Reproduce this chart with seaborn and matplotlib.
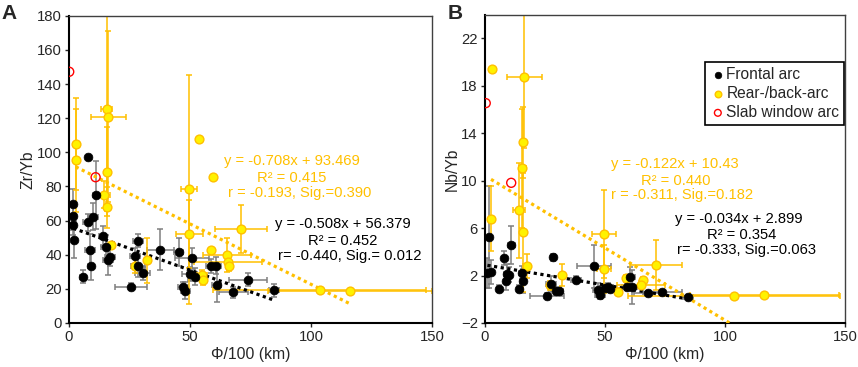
import numpy as np
import matplotlib
matplotlib.use('Agg')
import matplotlib.pyplot as plt
import seaborn as sns

# Panel A - Zr/Yb
frontal_x_a = [8.0, 1.8, 1.8, 1.8, 2.2, 7.7, 9.8, 11.0, 8.7, 9.0, 5.7, 14.0, 15.2, 16.0, 16.9, 28.4, 27.3,
               28.5, 30.4, 25.6, 37.7, 45.3, 50.9, 49.9, 52.1, 47.2, 48.1, 58.5, 60.7, 61.0, 67.9, 74.0, 84.8]
frontal_y_a = [97.0, 69.6, 62.4, 57.5, 48.8, 58.9, 62.2, 75.0, 43.0, 33.2, 27.2, 50.9, 44.3, 37.0, 38.6, 48.3,
               39.2, 33.2, 29.0, 21.3, 42.8, 41.6, 37.8, 28.7, 27.2, 20.9, 19.0, 33.2, 33.5, 22.4, 17.9, 25.4, 19.1]
frontal_yerr_a = [0, 9, 8, 6, 11, 5, 8, 20, 9, 8, 4, 6, 7, 9, 5, 4, 5, 6, 4, 2, 12, 8, 6, 4, 5, 3, 5, 4, 5,
                  10, 3, 4, 4]
frontal_xerr_a = [0, 1, 1, 1, 1, 2, 2, 1, 2, 1, 1, 1.5, 2, 2, 2, 2, 2, 3, 3, 6.6, 5.5, 2, 7, 3, 3, 2, 2, 2, 2,
                  2, 6, 8, 2]

rear_x_a = [15.6, 16.3, 2.8, 2.8, 15.8, 14.5, 15.8, 17.4, 53.7, 59.6, 49.6, 49.7, 71.2, 58.7, 65.2, 65.7, 66.0,
            27.3, 32.1, 55.1, 55.5, 103.7, 116.1]
rear_y_a = [125.4, 120.9, 104.9, 95.2, 88.7, 75.1, 67.9, 45.4, 107.8, 85.4, 78.4, 52.3, 55.2, 42.9, 40.0, 35.7,
            33.2, 33.5, 36.7, 28.3, 25.4, 19.5, 18.9]
rear_yerr_a = [60, 50, 27, 30, 26, 8, 12, 0, 0, 0, 67, 20, 14, 0, 10, 0, 3, 4, 13, 3, 3, 0, 0]
rear_xerr_a = [2.3, 7.4, 0, 0, 0, 2.6, 0, 0, 0, 0, 3.4, 5.6, 10.8, 0, 10, 14, 0, 0, 0, 2, 0, 44, 34]

slab_x_a = [0.1, 11.0]
slab_y_a = [147.2, 85.4]

# Panel B - Nb/Yb
frontal_x_b = [1.9, 1.1, 2.5, 8.0, 9.1, 10.0, 11.1, 8.9, 6.0, 14.4, 15.4, 15.8, 28.6, 25.8, 27.5, 29.7, 30.7,
               37.9, 45.5, 47.0, 48.0, 50.0, 51.2, 52.2, 59.1, 60.5, 61.2, 68.0, 73.9, 84.7]
frontal_y_b = [5.23, 2.22, 2.28, 3.49, 2.16, 2.08, 4.55, 1.52, 0.90, 0.87, 2.22, 1.52, 3.54, 0.31, 1.32, 0.67,
               0.73, 1.66, 2.78, 0.81, 0.33, 0.93, 1.04, 0.87, 1.04, 1.88, 1.04, 0.53, 0.59, 0.19]
frontal_yerr_b = [4.3, 1.3, 1.0, 0.6, 0.8, 0.6, 1.6, 0.7, 0.3, 0.3, 0.6, 1.0, 0.3, 0.2, 0.6, 0.3, 0.3, 0.3,
                  1.8, 0.6, 0.3, 0.3, 0.3, 0.3, 0.3, 0.8, 1.4, 0.2, 0.2, 0.2]
frontal_xerr_b = [0.5, 0.5, 0.5, 1, 1, 1, 1.5, 1, 1, 1, 1, 1, 1, 7, 2, 2, 2, 2, 7, 2, 2, 2, 2, 2, 2, 2, 2,
                  6, 8, 2]

rear_x_b = [2.9, 16.5, 16.1, 15.7, 14.4, 2.6, 16.1, 17.5, 49.7, 49.7, 71.3, 32.2, 27.2, 58.8, 65.7, 65.0, 55.3,
            103.7, 116.4]
rear_y_b = [19.4, 18.74, 13.25, 11.03, 7.51, 6.81, 5.65, 2.78, 5.51, 2.56, 2.90, 2.05, 1.18, 1.77, 1.60, 1.23,
            0.64, 0.25, 0.39]
rear_yerr_b = [0, 6, 3, 5, 4, 2.7, 5, 1, 3.7, 2, 2.1, 0.9, 0.4, 0.3, 0.3, 0.3, 0.3, 0, 0]
rear_xerr_b = [0, 7.4, 0, 1.5, 2.5, 0, 0, 1.5, 5, 3, 10.8, 0, 0, 0, 0, 10, 0, 44, 31]

slab_x_b = [0.4, 11.0]
slab_y_b = [16.54, 9.82]

# trendline coefficients (slope, intercept) and stats text
fit_frontal_a = (-0.508, 56.379)
fit_rear_a = (-0.708, 93.469)
fit_frontal_b = (-0.034, 2.899)
fit_rear_b = (-0.122, 10.43)
text_frontal_a = ['y = -0.508x + 56.379', 'R² = 0.452', 'r= -0.440, Sig.= 0.012']
text_rear_a = ['y = -0.708x + 93.469', 'R² = 0.415', 'r = -0.193, Sig.=0.390']
text_frontal_b = ['y = -0.034x + 2.899', 'R² = 0.354', 'r= -0.333, Sig.=0.063']
text_rear_b = ['y = -0.122x + 10.43', 'R² = 0.440', 'r = -0.311, Sig.=0.182']

GOLD = '#FFC000'
YELLOW = '#FFF200'
GREY = '#7F7F7F'

sns.set_style('ticks')
plt.rcParams['font.family'] = ['Liberation Sans', 'DejaVu Sans']

fig = plt.figure(figsize=(8.58, 3.67), dpi=100)
ax_a = fig.add_axes([0.0804, 0.120, 0.423, 0.837])
ax_b = fig.add_axes([0.565, 0.120, 0.420, 0.840])


def draw_panel(ax, fx, fy, fxe, fye, rx, ry, rxe, rye, sx, sy, fit_f, fit_r, legend=False):
    ax.errorbar(fx, fy, xerr=fxe, yerr=fye, fmt='none', ecolor=GREY, elinewidth=1.1, capsize=2.5,
                capthick=1.1, zorder=2)
    ax.errorbar(rx, ry, xerr=rxe, yerr=rye, fmt='none', ecolor=GOLD, elinewidth=1.1, capsize=2.5,
                capthick=1.1, zorder=2)
    # trendlines across the range of each group
    xf = np.array([min(fx), max(fx)])
    xr = np.array([min(rx), max(rx)])
    ax.plot(xf, fit_f[0] * xf + fit_f[1], color='black', lw=2.3, ls=(0, (1, 1.1)), zorder=3)
    ax.plot(xr, fit_r[0] * xr + fit_r[1], color=GOLD, lw=2.3, ls=(0, (1, 1.1)), zorder=3)
    sns.scatterplot(x=fx, y=fy, ax=ax, color='black', edgecolor='black', s=40, linewidth=0.5, zorder=5,
                    label='Frontal arc' if legend else None)
    sns.scatterplot(x=rx, y=ry, ax=ax, color=YELLOW, edgecolor=GOLD, s=40, linewidth=1.0, zorder=4,
                    label='Rear-/back-arc' if legend else None)
    sns.scatterplot(x=sx, y=sy, ax=ax, facecolor='none', edgecolor='red', s=42, linewidth=1.0, zorder=5,
                    label='Slab window arc' if legend else None)
    ax.set_xlim(0, 150)
    ax.set_xticks([0, 50, 100, 150])
    ax.set_xlabel('Φ/100 (km)', fontsize=11.3, labelpad=2)
    for side in ['left', 'bottom']:
        ax.spines[side].set_linewidth(1.5)
        ax.spines[side].set_color('black')
    for side in ['top', 'right']:
        ax.spines[side].set_visible(True)
        ax.spines[side].set_linewidth(1.0)
        ax.spines[side].set_color('#404040')
    ax.tick_params(axis='both', labelsize=10.7, length=3, width=1, pad=2)


draw_panel(ax_a, frontal_x_a, frontal_y_a, frontal_xerr_a, frontal_yerr_a, rear_x_a, rear_y_a,
           rear_xerr_a, rear_yerr_a, slab_x_a, slab_y_a, fit_frontal_a, fit_rear_a)
ax_a.set_ylim(0, 180)
ax_a.set_yticks(range(0, 181, 20))
ax_a.set_ylabel('Zr/Yb', fontsize=11.3, labelpad=1)

draw_panel(ax_b, frontal_x_b, frontal_y_b, frontal_xerr_b, frontal_yerr_b, rear_x_b, rear_y_b,
           rear_xerr_b, rear_yerr_b, slab_x_b, slab_y_b, fit_frontal_b, fit_rear_b, legend=True)
ax_b.set_ylim(-2, 24)
ax_b.set_yticks(range(-2, 23, 4))
ax_b.set_ylabel('Nb/Yb', fontsize=11.3, labelpad=1)

leg = ax_b.legend(loc='upper right', bbox_to_anchor=(0.997, 0.845), fontsize=11.2, frameon=True,
                  fancybox=False, edgecolor='black', framealpha=1, handletextpad=0.0, borderpad=0.3,
                  labelspacing=0.25, borderaxespad=0, handlelength=1.1, markerscale=0.75)
leg.get_frame().set_linewidth(1.2)

# regression annotations (x centre, y of each line)
stat_blocks = [
    (ax_a, text_rear_a, GOLD, [92, 92, 95.5], [94.8, 84.8, 76.0]),
    (ax_a, text_frontal_a, 'black', [113, 113, 116], [57.9, 48.0, 39.4]),
    (ax_b, text_rear_b, GOLD, [79.3, 79.3, 82], [11.42, 9.96, 8.75]),
    (ax_b, text_frontal_b, 'black', [105.7, 107, 109], [6.8, 5.4, 4.13]),
]
for ax, lines, col, xs, ys in stat_blocks:
    for line, tx, ty in zip(lines, xs, ys):
        ax.text(tx, ty, line, color=col, fontsize=10.6, ha='center', va='center', zorder=6)

fig.text(0.002, 0.99, 'A', fontsize=15, fontweight='bold', va='top', ha='left')
fig.text(0.522, 0.99, 'B', fontsize=15, fontweight='bold', va='top', ha='left')

fig.savefig('out.png', dpi=100)
